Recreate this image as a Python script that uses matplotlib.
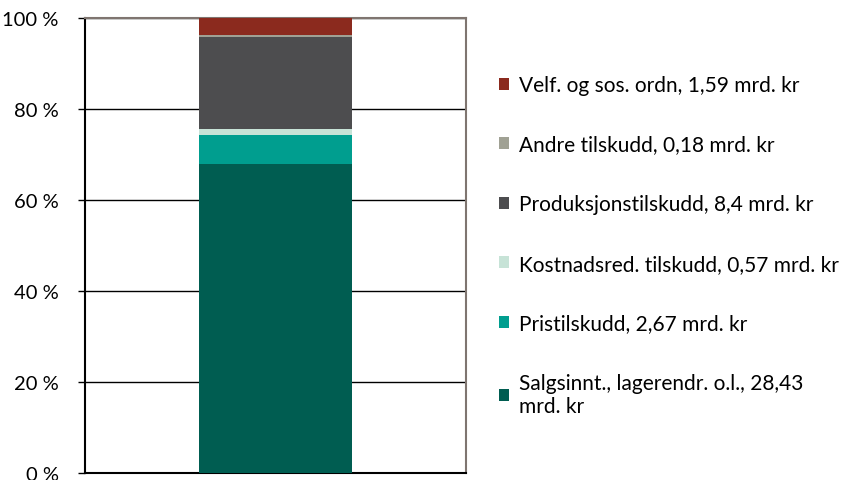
import matplotlib
matplotlib.use("Agg")
import matplotlib.pyplot as plt
from matplotlib.patches import Patch
from matplotlib.ticker import FuncFormatter

labels = ["Salgsinnt., lagerendr. o.l., 28,43\nmrd. kr",
          "Pristilskudd, 2,67 mrd. kr",
          "Kostnadsred. tilskudd, 0,57 mrd. kr",
          "Produksjonstilskudd, 8,4 mrd. kr",
          "Andre tilskudd, 0,18 mrd. kr",
          "Velf. og sos. ordn, 1,59 mrd. kr"]
values = [28.43, 2.67, 0.57, 8.4, 0.18, 1.59]
colors = ["#005D51", "#009E8F", "#C7E3D7", "#4D4D4F", "#A0A194", "#8B2A1E"]
yticks = [0, 20, 40, 60, 80, 100]

plt.rcParams['font.family'] = ['Lato', 'DejaVu Sans']

fig = plt.figure(figsize=(8.53, 4.81), dpi=100)
ax = fig.add_axes([85/853, 7/481, (466-85)/853, (474-19)/481])

total = sum(values)
bottom = 0.0
handles = []
for lab, v, c in zip(labels, values, colors):
    pct = v / total * 100
    ax.bar(0, pct, bottom=bottom, width=0.4, color=c, zorder=3)
    bottom += pct
    handles.append(Patch(facecolor=c, label=lab))

ax.set_xlim(-0.5, 0.5)
ax.set_ylim(0, 100)
ax.set_yticks(yticks)
ax.yaxis.set_major_formatter(FuncFormatter(lambda v, p: f"{int(v)} %"))
ax.tick_params(axis='y', labelsize=14.5, length=5, width=1, pad=14, colors='black')
ax.set_xticks([])
ax.grid(axis='y', color='black', linewidth=1, zorder=0)
for s in ['left', 'bottom']:
    ax.spines[s].set_color('black')
    ax.spines[s].set_linewidth(1.5)
for s in ['right', 'top']:
    ax.spines[s].set_color('#7F7570')
    ax.spines[s].set_linewidth(1.5)

fig.legend(handles=handles[::-1], loc='upper left', bbox_to_anchor=(499/853, 1 - 76/481),
           frameon=False, fontsize=15, handlelength=0.5, handleheight=0.5,
           handletextpad=0.45, labelspacing=1.9, borderaxespad=0, borderpad=0)

fig.savefig("out.png", dpi=100)
